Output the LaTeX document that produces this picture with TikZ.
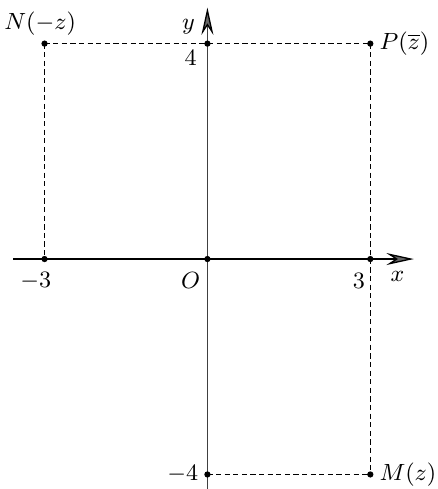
\documentclass[tikz,border=0pt]{standalone}
\usetikzlibrary{arrows.meta}
\begin{document}
\begin{tikzpicture}[x=0.732cm,y=0.726cm,
  every node/.style={font=\fontsize{9.4}{11}\selectfont},
  axis/.style={line width=0.5pt,-{Stealth[length=10.5pt,width=4.6pt,inset=3.5pt,color=black,fill=black!60]}},
  guide/.style={line width=0.45pt,dash pattern=on 2pt off 1.3pt},
  pt/.style={circle,fill=black,inner sep=0pt,minimum size=2.4pt},
  lbl/.style={inner sep=0pt}]
\useasboundingbox (-3.82,-4.27) rectangle (4.24,4.81);
% coordinates
\coordinate (xl) at (-3.58,0);
\coordinate (xr) at (3.80,0);
\coordinate (yb) at (0,-4.3);
\coordinate (yt) at (0,4.67);
\coordinate (N) at (-3,4);
\coordinate (Y4) at (0,4);
\coordinate (P) at (3,4);
\coordinate (Xm3) at (-3,0);
\coordinate (O) at (0,0);
\coordinate (X3) at (3,0);
\coordinate (Ym4) at (0,-4);
\coordinate (M) at (3,-4);
% dashed guides
\draw[guide] (N) -- (P);
\draw[guide] (N) -- (Xm3);
\draw[guide] (P) -- (M);
\draw[guide] (Ym4) -- (M);
% axes
\draw[axis] (xl) -- (xr);
\draw[axis,black!75] (yb) -- (yt);
% points
\foreach \p in {N,Y4,P,Xm3,O,X3,Ym4,M} \node[pt] (d\p) at (\p) {};
% labels
\node[lbl] (lN) at (-3.08,4.38) {$N(-z)$};
\node[lbl] (ly) at (-0.35,4.31) {$y$};
\node[lbl] (l4) at (-0.31,3.74) {$4$};
\node[right] (lP) at (P) {$P(\overline{z})$};
\node[right] (lM) at (M) {$M(z)$};
\node[left] (lm4) at (Ym4) {$-4$};
\node[lbl] (lm3) at (-3.16,-0.41) {$-3$};
\node[lbl] (lO) at (-0.31,-0.39) {$O$};
\node[lbl] (l3) at (2.79,-0.41) {$3$};
\node[lbl] (lx) at (3.5,-0.32) {$x$};
\end{tikzpicture}
\end{document}
